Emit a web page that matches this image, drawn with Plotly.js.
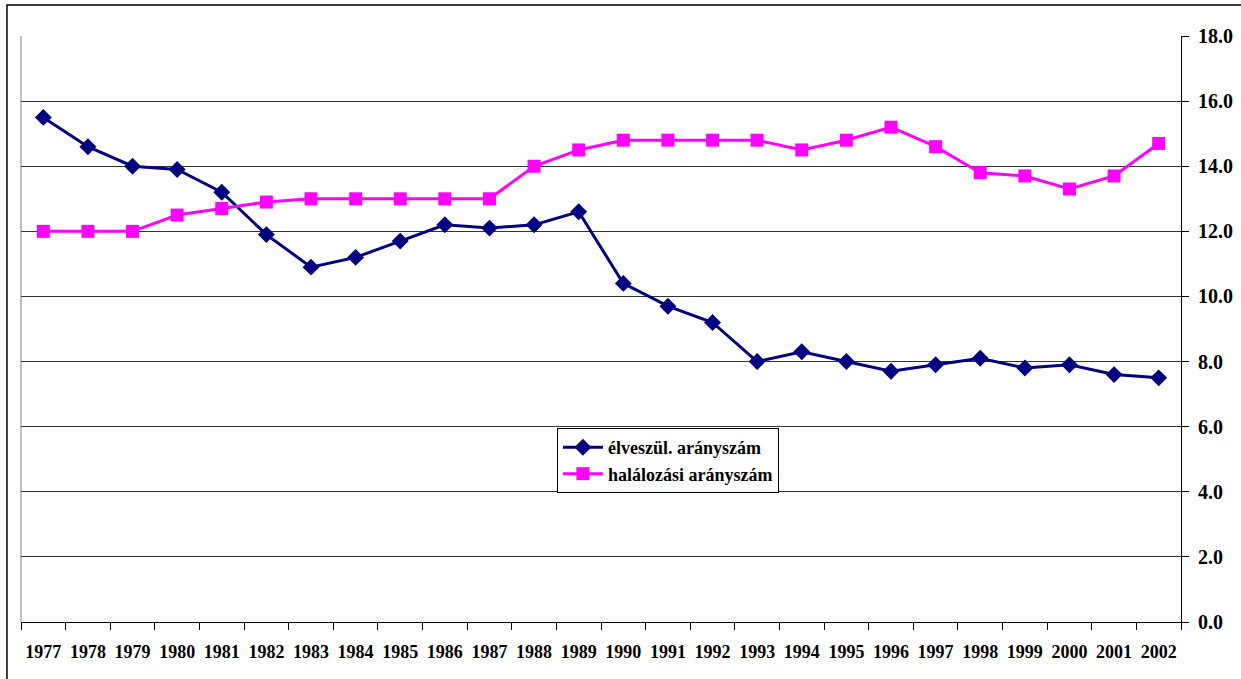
<!DOCTYPE html>
<html>
<head>
<meta charset="utf-8">
<script src="https://cdn.plot.ly/plotly-3.0.1.min.js"></script>
<style>html,body{margin:0;padding:0;background:#fff;}#chart{width:1241px;height:679px;}</style>
</head>
<body>
<div id="chart"></div>
<script>
const years = ["1977","1978","1979","1980","1981","1982","1983","1984","1985","1986","1987","1988","1989","1990","1991","1992","1993","1994","1995","1996","1997","1998","1999","2000","2001","2002"];
const birthRate = [15.5,14.6,14.0,13.9,13.2,11.9,10.9,11.2,11.7,12.2,12.1,12.2,12.6,10.4,9.7,9.2,8.0,8.3,8.0,7.7,7.9,8.1,7.8,7.9,7.6,7.5];
const deathRate = [12.0,12.0,12.0,12.5,12.7,12.9,13.0,13.0,13.0,13.0,13.0,14.0,14.5,14.8,14.8,14.8,14.8,14.5,14.8,15.2,14.6,13.8,13.7,13.3,13.7,14.7];
const seriesNames = ["élveszül. arányszám","halálozási arányszám"];
const yTicks = [0,2,4,6,8,10,12,14,16,18];
const yTickText = yTicks.map(v => '<b>' + v.toFixed(1) + '</b>');
const xTickText = years.map(y => '<b>' + y + '</b>');

const fontFam = 'Liberation Serif';

const traces = [
  {x: years, y: birthRate, name: '<b>' + seriesNames[0] + '</b>', type: 'scatter', mode: 'lines+markers',
   line: {color: '#000080', width: 3}, marker: {symbol: 'diamond', size: 13, color: '#000080'}},
  {x: years, y: deathRate, name: '<b>' + seriesNames[1] + '</b>', type: 'scatter', mode: 'lines+markers',
   line: {color: '#FF00FF', width: 3}, marker: {symbol: 'square', size: 13, color: '#FF00FF'}}
];

const layout = {
  width: 1241, height: 679,
  margin: {l: 21, r: 60, t: 36, b: 57},
  paper_bgcolor: '#fff', plot_bgcolor: '#fff',
  font: {family: fontFam, color: '#000'},
  showlegend: true,
  legend: {x: 0.462, y: 0.331, xanchor: 'left', yanchor: 'top', bgcolor: '#fff',
    bordercolor: '#000', borderwidth: 1, font: {family: fontFam, size: 18, color: '#000'},
    tracegroupgap: 0, itemwidth: 40},
  xaxis: {type: 'category', range: [-0.5, years.length - 0.5], autorange: false, tickson: 'boundaries',
    tickmode: 'array', tickvals: years, ticktext: xTickText,
    ticks: 'outside', ticklen: 7, tickcolor: '#000', ticklabelstandoff: 13,
    showline: true, linecolor: '#000', linewidth: 1, showgrid: false, zeroline: false,
    tickfont: {family: fontFam, size: 18, color: '#000'}, tickangle: 0, fixedrange: true},
  yaxis: {side: 'right', range: [0, 18], autorange: false, tickmode: 'array', tickvals: yTicks, ticktext: yTickText,
    ticks: 'outside', ticklen: 7, tickcolor: '#000', ticklabelstandoff: 5, showline: true, linecolor: '#000', linewidth: 1,
    showgrid: true, gridcolor: '#333', gridwidth: 1, zeroline: false,
    tickfont: {family: fontFam, size: 20, color: '#000'}, fixedrange: true},
  shapes: [
    {type: 'line', xref: 'paper', yref: 'paper', x0: 0, x1: 0, y0: 0, y1: 1, line: {color: '#808080', width: 1}},
    {type: 'rect', xref: 'paper', yref: 'paper', x0: -0.0121, x1: 1.053, y0: -0.11, y1: 1.0529, line: {color: '#000', width: 1.5}, layer: 'below'}
  ]
};

Plotly.newPlot('chart', traces, layout, {displayModeBar: false, staticPlot: true});
</script>
</body>
</html>
